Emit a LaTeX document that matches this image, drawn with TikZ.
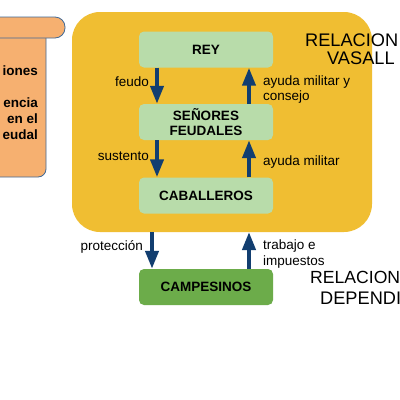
\documentclass[tikz,border=0pt]{standalone}
\usepackage{fontspec}
\setmainfont{Liberation Sans}
\usetikzlibrary{arrows.meta}
\definecolor{scrollfill}{RGB}{246,176,112}
\definecolor{scrollline}{RGB}{65,105,150}
\definecolor{yel}{RGB}{240,190,50}
\definecolor{lgreen}{RGB}{184,220,170}
\definecolor{dgreen}{RGB}{108,172,74}
\definecolor{arr}{RGB}{18,62,112}
\tikzset{
  box/.style={rounded corners=5pt, minimum width=134pt, minimum height=36pt, inner sep=0pt, font=\fontsize{13.5}{15}\selectfont\bfseries, align=center},
  lbl/.style={font=\fontsize{13.5}{15.5}\selectfont, inner sep=0pt, align=left},
  big/.style={font=\fontsize{18.2}{21}\selectfont, inner sep=0pt, align=left, anchor=west},
  frag/.style={font=\fontsize{13.5}{16}\selectfont\bfseries, inner sep=0pt, anchor=east},
  flow/.style={draw=arr, line width=4pt, -{Triangle[width=13pt,length=18pt]}}
}
\begin{document}
\begin{tikzpicture}[x=1pt,y=-1pt]
\useasboundingbox (0,0) rectangle (400,400);
\clip (0,0) rectangle (400,400);
\fill[white] (0,0) rectangle (400,400);
% scroll
\draw[fill=scrollfill, draw=scrollline, line width=0.8pt, rounded corners=8pt] (-20,30) -- (46,30) -- (46,177) -- (-20,177) -- cycle;
\draw[fill=scrollfill, draw=scrollline, line width=0.8pt, rounded corners=10pt] (-20,17) rectangle (65,38);
\node[frag] (f1) at (38,71) {iones};
\node[frag] (f2) at (38,103) {encia};
\node[frag] (f3) at (38,119) {en el};
\node[frag] (f4) at (38,135) {eudal};
% yellow panel
\fill[yel, rounded corners=28pt] (72,12) rectangle (372,232);
\coordinate (ybl) at (152,232);
\coordinate (ybr) at (249,232);
% boxes
\node[box, fill=lgreen] (rey) at (206,49.5) {REY};
\node[box, fill=lgreen] (sen) at (206,122) {SEÑORES\\FEUDALES};
\node[box, fill=lgreen] (cab) at (206,195.5) {CABALLEROS};
\node[box, fill=dgreen] (cam) at (206,287) {CAMPESINOS};
% arrows
\draw[flow] (rey.south -| 157,0) -- (sen.north -| 157,0);
\draw[flow] (sen.north -| 249,0) -- (rey.south -| 249,0);
\draw[flow] (sen.south -| 157,0) -- (cab.north -| 157,0);
\draw[flow] (cab.north -| 249,0) -- (sen.south -| 249,0);
\draw[flow] (ybl) -- (cam.north -| ybl);
\draw[flow] (cam.north -| ybr) -- (ybr);
% labels
\node[lbl, anchor=east] (l1) at (149,82) {feudo};
\node[lbl, anchor=west] (l2) at (263,89.5) {ayuda militar y\\consejo};
\node[lbl, anchor=east] (l3) at (149,156) {sustento};
\node[lbl, anchor=west] (l4) at (263,162) {ayuda militar};
\node[lbl, anchor=east] (l5) at (143,247) {protección};
\node[lbl, anchor=west] (l6) at (263,254) {trabajo e\\impuestos};
% titles
\node[big] (t1) at (305,40) {RELACION};
\node[big] (t2) at (327,58) {VASALL};
\node[big, font=\fontsize{17.6}{21}\selectfont] (t3) at (310,277) {RELACION};
\node[big] (t4) at (320,298) {DEPENDI};
\end{tikzpicture}
\end{document}
